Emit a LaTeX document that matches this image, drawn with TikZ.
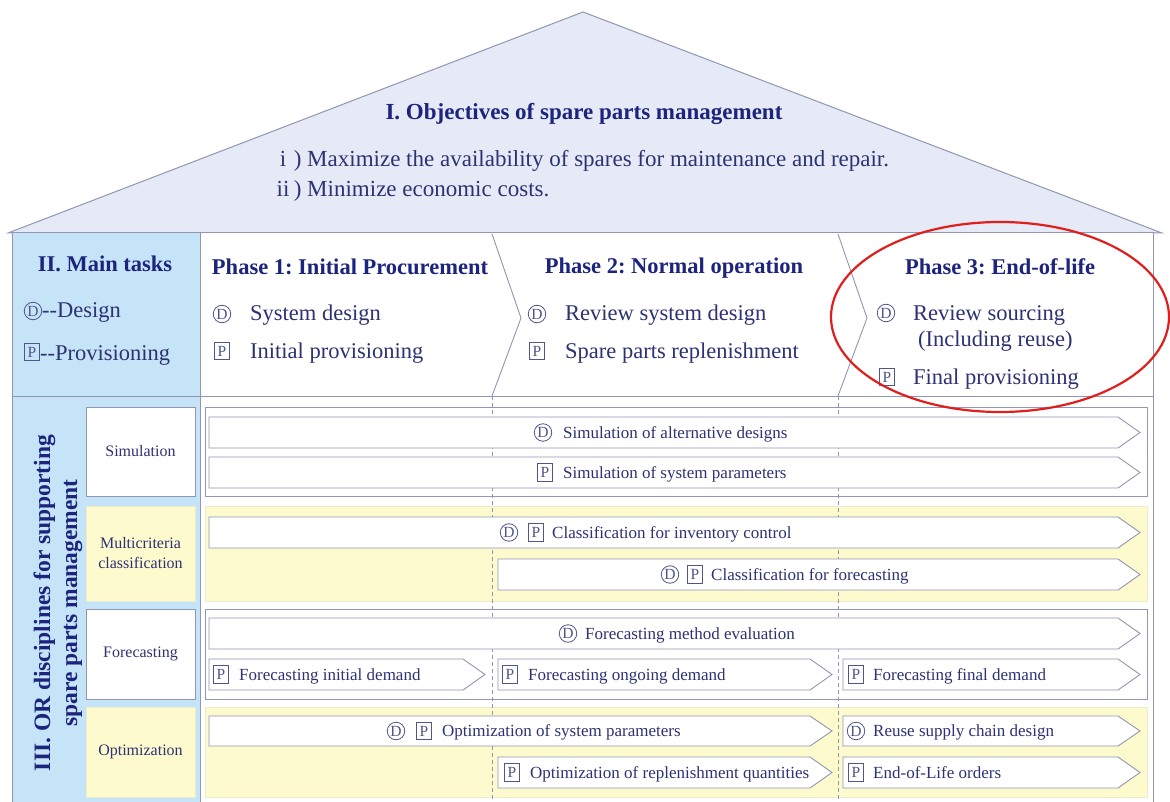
\documentclass[tikz,border=0pt]{standalone}
\usepackage{fontspec}
\setmainfont{Liberation Serif}
\usetikzlibrary{calc}
\definecolor{roof}{RGB}{230,234,246}
\definecolor{edge}{RGB}{145,150,178}
\definecolor{bluecol}{RGB}{198,228,247}
\definecolor{yel}{RGB}{253,250,206}
\definecolor{navy}{RGB}{28,36,125}
\definecolor{txt}{RGB}{45,50,115}
\definecolor{symc}{RGB}{80,85,140}
\definecolor{redc}{RGB}{225,30,30}
\tikzset{
  roofshape/.style={fill=roof,draw=edge,line width=1pt},
  bodybox/.style={fill=white,draw=edge,line width=1pt},
  sepline/.style={draw=edge,line width=0.9pt},
  panelw/.style={fill=white,draw=edge,line width=1pt},
  panely/.style={fill=yel,draw=yel!85!edge,line width=0.6pt},
  arrowbox/.style={fill=white,draw=edge,line width=0.9pt},
  dashline/.style={draw=edge,line width=0.7pt,dash pattern=on 4pt off 3pt},
  rowtxt/.style={font=\fontsize{17}{19}\selectfont,text=txt,inner sep=0pt,anchor=base west},
  cattxt/.style={font=\fontsize{16}{20}\selectfont,text=txt,align=center,inner sep=0pt},
  hdtitle/.style={font=\fontsize{22.5}{26}\selectfont\bfseries,text=navy,inner sep=0pt,anchor=base},
  rooftxt/.style={font=\fontsize{23}{26}\selectfont,text=txt,inner sep=0pt,anchor=base west},
  hditem/.style={font=\fontsize{22.5}{26}\selectfont,text=txt,inner sep=0pt,anchor=base west},
  dsym/.style={circle,draw=symc,line width=0.8pt,inner sep=0pt,minimum size=17.5pt,text=symc,font=\fontsize{15.5}{15.5}\selectfont},
  psym/.style={rectangle,draw=symc,line width=0.8pt,inner sep=0pt,minimum width=14.5pt,minimum height=17.5pt,text=symc,font=\fontsize{15.5}{15.5}\selectfont},
  vlabel/.style={font=\fontsize{23.5}{27}\selectfont\bfseries,text=navy,align=center,inner sep=0pt,rotate=90},
  redring/.style={draw=redc,line width=2.2pt},
}
% arrow box: x1, x2, ytop, ybottom
\newcommand\sigbox[4]{\draw[arrowbox] (#1,#3) -- ({#2-22},#3) -- (#2,{(#3+#4)/2}) -- ({#2-22},#4) -- (#1,#4) -- cycle;}
\begin{document}
\frenchspacing
\begin{tikzpicture}[x=1pt,y=-1pt]
\useasboundingbox (0,0) rectangle (1170,802);
% roof
\draw[roofshape] (8,233) -- (583,12) -- (1162,233) -- cycle;
\node[hdtitle,font=\fontsize{23}{26}\selectfont\bfseries] (obj) at (584,120) {I. Objectives of spare parts management};
\node[rooftxt] (obj1) at (276,167) {\makebox[0.6em][c]{i}\,) Maximize the availability of spares for maintenance and repair.};
\node[rooftxt] (obj2) at (276,197) {\makebox[0.6em][c]{ii}\,) Minimize economic costs.};
% body
\draw[bodybox] (12,233) rectangle (1153,815);
\fill[bluecol] (12.5,233.5) rectangle (200,815);
\draw[sepline] (12,233) -- (12,815);
\draw[sepline] (200,233) -- (200,815);
\draw[sepline] (12,396) -- (1153,396);
% header left
\node[hdtitle] (mt) at (105,272) {II. Main tasks};
\node[dsym] (mtds) at (33,311) {D};
\node[hditem] (mtd) at (42,318) {{-}{-}Design};
\node[psym] (mtps) at (32,352) {P};
\node[hditem] (mtp) at (40,360) {{-}{-}Provisioning};
% phase separators
\draw[sepline] (492,234) -- (521,318) -- (492,396);
\draw[sepline] (838,234) -- (867,318) -- (838,396);
% phase 1
\node[hdtitle] (p1) at (350,275) {Phase 1: Initial Procurement};
\node[dsym] (p1ds) at (222,314) {D};
\node[hditem] (p1d) at (250,321) {System design};
\node[psym] (p1ps) at (222,351) {P};
\node[hditem] (p1p) at (250,358) {Initial provisioning};
% phase 2
\node[hdtitle] (p2) at (674,274) {Phase 2: Normal operation};
\node[dsym] (p2ds) at (537,314) {D};
\node[hditem] (p2d) at (565,321) {Review system design};
\node[psym] (p2ps) at (537,351) {P};
\node[hditem] (p2p) at (565,358) {Spare parts replenishment};
% phase 3
\node[hdtitle] (p3) at (1000,275) {Phase 3: End-of-life};
\node[dsym] (p3ds) at (886,313) {D};
\node[hditem] (p3d) at (913,320) {Review sourcing};
\node[hditem] (p3d2) at (918,346) {(Including reuse)};
\node[psym] (p3ps) at (887,377) {P};
\node[hditem] (p3p) at (913,384) {Final provisioning};
% vertical label
\node[vlabel] (orlab) at (58,603) {III. OR disciplines for supporting\\spare parts management};
% category boxes
\draw[panelw] (86,407) rectangle (195,496);
\draw[panely] (86,506) rectangle (195,601);
\draw[panelw] (86,609) rectangle (195,699);
\draw[panely] (86,707) rectangle (195,797);
\node[cattxt] (csim) at (140.5,451.5) {Simulation};
\node[cattxt] (cmc) at (140.5,553.5) {Multicriteria\\classification};
\node[cattxt] (cfc) at (140.5,654) {Forecasting};
\node[cattxt] (copt) at (140.5,752) {Optimization};
% panels
\draw[panelw] (205,407) rectangle (1147,496);
\draw[panely] (205,506) rectangle (1147,601);
\draw[panelw] (205,609) rectangle (1147,699);
\draw[panely] (205,707) rectangle (1147,797);
% dashed phase lines
\draw[dashline] (492,396) -- (492,805);
\draw[dashline] (838,396) -- (838,805);
% simulation
\sigbox{209}{1140}{417}{448}
\node[dsym] (s1d) at (543,432.5) {D};
\node[rowtxt] (s1) at (563,438) {Simulation of alternative designs};
\sigbox{209}{1140}{457}{488}
\node[psym] (s2p) at (545,472.5) {P};
\node[rowtxt] (s2) at (563,478) {Simulation of system parameters};
% multicriteria
\sigbox{209}{1140}{517}{548}
\node[dsym] (m1d) at (509,532.5) {D};
\node[psym] (m1p) at (536,532.5) {P};
\node[rowtxt] (m1) at (552,538) {Classification for inventory control};
\sigbox{498}{1140}{559}{590}
\node[dsym] (m2d) at (670,574.5) {D};
\node[psym] (m2p) at (695,574.5) {P};
\node[rowtxt] (m2) at (711,580) {Classification for forecasting};
% forecasting
\sigbox{209}{1140}{618}{649}
\node[dsym] (f1d) at (568,633.5) {D};
\node[rowtxt] (f1) at (585,639) {Forecasting method evaluation};
\sigbox{209}{485}{659}{690}
\sigbox{498}{832}{659}{690}
\sigbox{843}{1140}{659}{690}
\node[psym] (f2p) at (221,674.5) {P};
\node[rowtxt] (f2) at (239,680) {Forecasting initial demand};
\node[psym] (f3p) at (510,674.5) {P};
\node[rowtxt] (f3) at (528,680) {Forecasting ongoing demand};
\node[psym] (f4p) at (856,674.5) {P};
\node[rowtxt] (f4) at (873,680) {Forecasting final demand};
% optimization
\sigbox{209}{832}{716}{746}
\sigbox{843}{1140}{716}{746}
\node[dsym] (o1d) at (396,731) {D};
\node[psym] (o1p) at (424,731) {P};
\node[rowtxt] (o1) at (442,736.5) {Optimization of system parameters};
\node[dsym] (o2d) at (856,731) {D};
\node[rowtxt] (o2) at (873,736.5) {Reuse supply chain design};
\sigbox{498}{832}{757}{788}
\sigbox{843}{1140}{757}{788}
\node[psym] (o3p) at (512,772.5) {P};
\node[rowtxt] (o3) at (530,778) {Optimization of replenishment quantities};
\node[psym] (o4p) at (856,772.5) {P};
\node[rowtxt] (o4) at (873,778) {End-of-Life orders};
% red ring
\draw[redring] (1000,317) ellipse [x radius=169pt, y radius=95pt];
\end{tikzpicture}
\end{document}
